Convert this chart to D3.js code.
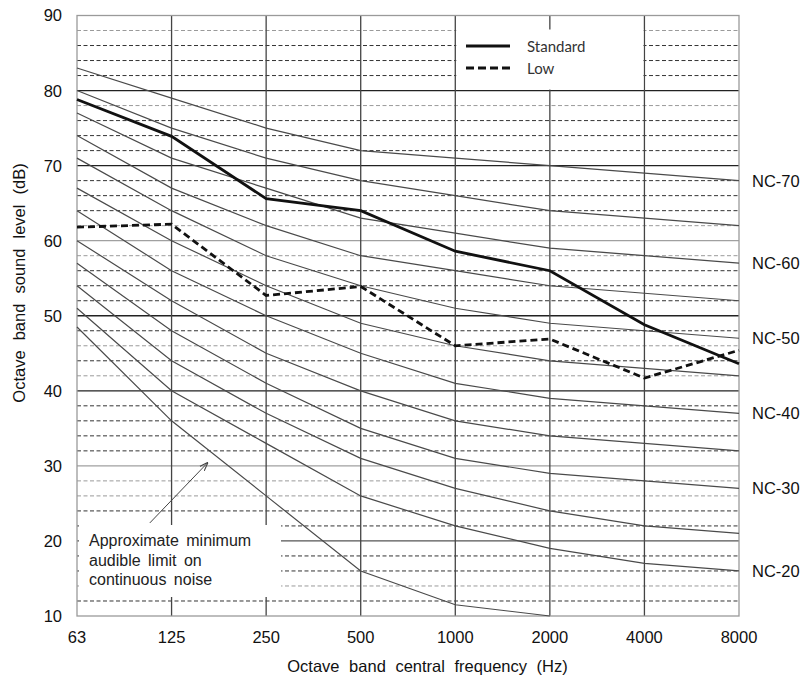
<!DOCTYPE html>
<html><head><meta charset="utf-8">
<script src="https://cdn.jsdelivr.net/npm/d3@7"></script>
<style>body{margin:0;background:#fff}svg{display:block}</style>
</head><body>
<svg id="chart" width="805" height="682"></svg>
<script>
// ---- data ----
const frequencies = ["63","125","250","500","1000","2000","4000","8000"];
const yTicks = [10,20,30,40,50,60,70,80,90];
const ncNames = ["NC-70","NC-65","NC-60","NC-55","NC-50","NC-45","NC-40","NC-35","NC-30","NC-25","NC-20"];
const nc70 = [83,79,75,72,71,70,69,68];
const nc65 = [80,75,71,68,66,64,63,62];
const nc60 = [77,71,67,63,61,59,58,57];
const nc55 = [74,67,62,58,56,54,53,52];
const nc50 = [71,64,58,54,51,49,48,47];
const nc45 = [67,60,54,49,46,44,43,42];
const nc40 = [64,56,50,45,41,39,38,37];
const nc35 = [60,52,45,40,36,34,33,32];
const nc30 = [57,48,41,35,31,29,28,27];
const nc25 = [54,44,37,31,27,24,22,21];
const nc20 = [51,40,33,26,22,19,17,16];
const ncLabelled = ["NC-70","NC-60","NC-50","NC-40","NC-30","NC-20"];
const thresholdFreqs = ["63","125","250","500","1000","2000"];
const thresholdValues = [48.5,36,26,16,11.5,10];
const standardValues = [78.8,73.9,65.6,64,58.6,56,48.8,43.6];
const lowValues = [61.8,62.2,52.7,53.9,46,46.9,41.7,45.4];
const seriesNames = ["Standard","Low"];
const annotationLines = ["Approximate minimum","audible limit on","continuous noise"];
// arrow in (band index, dB)
const arrowFrom = [0.77,22.4];
const arrowTo = [1.38,30.4];
const lightDashed = [88,78,62,58,46,42,28,26,14];

const ncSeries = [nc70,nc65,nc60,nc55,nc50,nc45,nc40,nc35,nc30,nc25,nc20];

// ---- layout ----
const L = 77, R = 739, T = 15.5, B = 616;
const svg = d3.select("#chart");
const x = d3.scalePoint().domain(frequencies).range([L,R]);
const xi = d3.scaleLinear().domain([0,frequencies.length-1]).range([L,R]);
const y = d3.scaleLinear().domain([10,90]).range([B,T]);
const fontA = "'Liberation Sans', Arial, sans-serif";

// dashed minor grid (every 2 dB)
const minor = d3.range(12,90,2).filter(v => v % 10 !== 0);
svg.append("g").selectAll("line").data(minor).join("line")
  .attr("x1",L).attr("x2",R).attr("y1",d=>y(d)).attr("y2",d=>y(d))
  .attr("stroke",d=>lightDashed.includes(d)?"#9a9a9a":"#333")
  .attr("stroke-width",1).attr("stroke-dasharray","4,2.5");

// major grid
const majorColor = {20:"#555",30:"#a0a0a0",40:"#222",50:"#222",60:"#a0a0a0",70:"#222",80:"#222"};
svg.append("g").selectAll("line").data([20,30,40,50,60,70,80]).join("line")
  .attr("x1",L).attr("x2",R).attr("y1",d=>y(d)).attr("y2",d=>y(d))
  .attr("stroke",d=>majorColor[d]).attr("stroke-width",1.3);

// vertical grid
svg.append("g").selectAll("line").data(frequencies.slice(1,-1)).join("line")
  .attr("x1",d=>x(d)).attr("x2",d=>x(d)).attr("y1",T).attr("y2",B)
  .attr("stroke","#444").attr("stroke-width",1.3);

// frame
svg.append("rect").attr("x",L).attr("y",T).attr("width",R-L).attr("height",B-T)
  .attr("fill","none").attr("stroke","#9a9a9a").attr("stroke-width",1.3);

// NC curves
const line = d3.line().x((d,i)=>x(frequencies[i])).y(d=>y(d));
svg.append("g").selectAll("path").data(ncSeries).join("path")
  .attr("d",line).attr("fill","none").attr("stroke","#4a4a4a").attr("stroke-width",1.2);

// threshold curve
const tline = d3.line().x((d,i)=>x(thresholdFreqs[i])).y(d=>y(d));
svg.append("path").datum(thresholdValues).attr("d",tline)
  .attr("fill","none").attr("stroke","#4a4a4a").attr("stroke-width",1.2);

// legend box (between 1000 and 4000 lines)
svg.append("rect").attr("x",x("1000")+1).attr("y",29.5)
  .attr("width",x("4000")-x("1000")-2).attr("height",y(80)-29.5-1).attr("fill","#fff");
// annotation box
svg.append("rect").attr("x",L+2).attr("y",525)
  .attr("width",281-L-2).attr("height",72).attr("fill","#fff");

// Low series
svg.append("path").datum(lowValues).attr("d",line).attr("fill","none")
  .attr("stroke","#111").attr("stroke-width",2.8).attr("stroke-dasharray","7,4");
// Standard series
svg.append("path").datum(standardValues).attr("d",line).attr("fill","none")
  .attr("stroke","#111").attr("stroke-width",2.8);

// legend
const lg = svg.append("g");
lg.append("line").attr("x1",466).attr("x2",510).attr("y1",46).attr("y2",46)
  .attr("stroke","#111").attr("stroke-width",2.8);
lg.append("line").attr("x1",466).attr("x2",510).attr("y1",68).attr("y2",68)
  .attr("stroke","#111").attr("stroke-width",2.8).attr("stroke-dasharray","8,4");
lg.selectAll("text").data(seriesNames).join("text")
  .attr("x",527).attr("y",(d,i)=>52+i*21.5)
  .attr("font-family","Lato, 'Open Sans', sans-serif").attr("font-size",15)
  .attr("fill","#333").text(d=>d);

// annotation
svg.append("g").selectAll("text").data(annotationLines).join("text")
  .attr("x",89).attr("y",(d,i)=>546+i*19.5)
  .attr("font-family",fontA).attr("font-size",16).attr("word-spacing",3)
  .attr("fill","#222").text(d=>d);
svg.append("defs").append("marker").attr("id","arr").attr("viewBox","0 0 10 10")
  .attr("refX",9).attr("refY",5).attr("markerWidth",9).attr("markerHeight",9)
  .attr("orient","auto").attr("markerUnits","userSpaceOnUse")
  .append("path").attr("d","M0,1.5 L10,5 L0,8.5").attr("fill","none").attr("stroke","#444").attr("stroke-width",1.2);
svg.append("line").attr("x1",xi(arrowFrom[0])).attr("y1",y(arrowFrom[1]))
  .attr("x2",xi(arrowTo[0])).attr("y2",y(arrowTo[1]))
  .attr("stroke","#444").attr("stroke-width",1).attr("marker-end","url(#arr)");

// y tick labels
svg.append("g").selectAll("text").data(yTicks).join("text")
  .attr("x",62).attr("y",d=>y(d)).attr("dy","0.36em").attr("text-anchor","end")
  .attr("font-family",fontA).attr("font-size",16.5).attr("fill","#111").text(d=>d);
// x tick labels
svg.append("g").selectAll("text").data(frequencies).join("text")
  .attr("x",d=>x(d)).attr("y",643).attr("text-anchor","middle")
  .attr("font-family",fontA).attr("font-size",16.5).attr("fill","#111").text(d=>d);

// NC labels at curve ends
svg.append("g").selectAll("text").data(ncLabelled).join("text")
  .attr("x",752).attr("y",d=>y(ncSeries[ncNames.indexOf(d)][7])).attr("dy","0.36em")
  .attr("font-family",fontA).attr("font-size",16.5).attr("fill","#111").text(d=>d);

// axis titles
svg.append("text").attr("x",427.5).attr("y",672).attr("text-anchor","middle")
  .attr("font-family",fontA).attr("font-size",16.5).attr("word-spacing",5)
  .attr("fill","#111").text("Octave band central frequency (Hz)");
svg.append("text").attr("transform","translate(25,283) rotate(-90)").attr("text-anchor","middle")
  .attr("font-family",fontA).attr("font-size",16.5).attr("word-spacing",5.5)
  .attr("fill","#111").text("Octave band sound level (dB)");
</script>
</body></html>
